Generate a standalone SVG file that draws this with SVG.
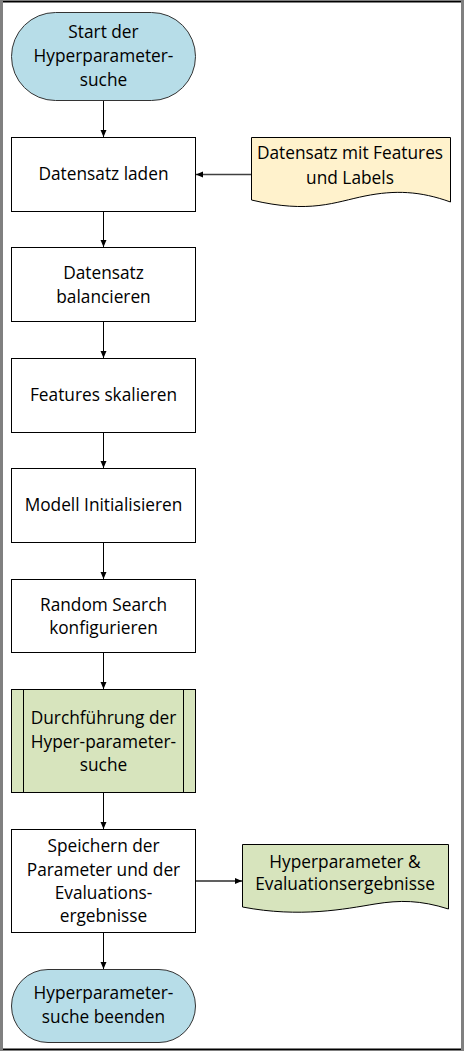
<svg xmlns="http://www.w3.org/2000/svg" width="464" height="1051" viewBox="0 0 464 1051">
<defs>
<marker id="ah" markerWidth="8" markerHeight="8" refX="7" refY="4" orient="auto" markerUnits="userSpaceOnUse">
<path d="M0,1 L7,4 L0,7 Z" fill="#000"/>
</marker>
</defs>
<style>
.t{font-family:"Open Sans","Liberation Sans",sans-serif;font-size:17.3px;fill:#000;text-anchor:middle}
.box{fill:#fff;stroke:#000;stroke-width:1}
.term{fill:#b7dde8;stroke:#333;stroke-width:1}
.con{stroke:#000;stroke-width:1;fill:none}
</style>
<rect x="0" y="0" width="464" height="1051" fill="#fff"/>
<g id="frame">
<line x1="0" y1="1.5" x2="464" y2="1.5" stroke="#000" stroke-width="2"/>
<line x1="0" y1="1049.5" x2="464" y2="1049.5" stroke="#000" stroke-width="2"/>
<line x1="1.5" y1="0" x2="1.5" y2="1051" stroke="#808080" stroke-width="3"/>
<line x1="462.5" y1="0" x2="462.5" y2="1051" stroke="#808080" stroke-width="3"/>
</g>
<g id="connectors">
<line class="con" x1="103.5" y1="100" x2="103.5" y2="137" marker-end="url(#ah)"/>
<line class="con" x1="103.5" y1="211" x2="103.5" y2="247" marker-end="url(#ah)"/>
<line class="con" x1="103.5" y1="321" x2="103.5" y2="358" marker-end="url(#ah)"/>
<line class="con" x1="103.5" y1="432" x2="103.5" y2="468" marker-end="url(#ah)"/>
<line class="con" x1="103.5" y1="542" x2="103.5" y2="579" marker-end="url(#ah)"/>
<line class="con" x1="103.5" y1="652" x2="103.5" y2="689" marker-end="url(#ah)"/>
<line class="con" x1="103.5" y1="792" x2="103.5" y2="829" marker-end="url(#ah)"/>
<line class="con" x1="103.5" y1="932" x2="103.5" y2="969" marker-end="url(#ah)"/>
<line x1="251" y1="174.5" x2="196" y2="174.5" stroke="#404040" stroke-width="1.3" marker-end="url(#ah)"/>
<line x1="195" y1="881" x2="242" y2="881" stroke="#606060" stroke-width="2" marker-end="url(#ah)"/>
</g>
<g id="start">
<rect class="term" x="11.5" y="12.5" width="184" height="88" rx="44" ry="44"/>
<text class="t" x="103.5" y="38">Start der</text>
<text class="t" x="103.5" y="62">Hyperparameter-</text>
<text class="t" x="103.5" y="86">suche</text>
</g>
<g id="laden">
<rect class="box" x="11.5" y="137.5" width="184" height="74"/>
<text class="t" x="103.5" y="180">Datensatz laden</text>
</g>
<g id="datensatz">
<path d="M251.5,137.5 H450.5 V202 C420,191 395,190 365,196 C335,202 310,214 251.5,200 Z" fill="#fff2cc" stroke="#000" stroke-width="1"/>
<text class="t" x="350" y="159">Datensatz mit Features</text>
<text class="t" x="350" y="184">und Labels</text>
</g>
<g id="balancieren">
<rect class="box" x="11.5" y="247.5" width="184" height="74"/>
<text class="t" x="103.5" y="279">Datensatz</text>
<text class="t" x="103.5" y="303">balancieren</text>
</g>
<g id="skalieren">
<rect class="box" x="11.5" y="358.5" width="184" height="74"/>
<text class="t" x="103.5" y="401">Features skalieren</text>
</g>
<g id="modell">
<rect class="box" x="11.5" y="468.5" width="184" height="74"/>
<text class="t" x="103.5" y="511">Modell Initialisieren</text>
</g>
<g id="random">
<rect class="box" x="11.5" y="579.5" width="184" height="73"/>
<text class="t" x="103.5" y="611">Random Search</text>
<text class="t" x="103.5" y="634">konfigurieren</text>
</g>
<g id="durchfuehrung">
<rect x="11.5" y="689.5" width="184" height="103" fill="#d7e4bd" stroke="#000" stroke-width="1"/>
<line x1="23.5" y1="689.5" x2="23.5" y2="792.5" stroke="#000" stroke-width="1"/>
<line x1="183.5" y1="689.5" x2="183.5" y2="792.5" stroke="#000" stroke-width="1"/>
<text class="t" x="103.5" y="724">Durchführung der</text>
<text class="t" x="103.5" y="748">Hyper-parameter-</text>
<text class="t" x="103.5" y="771">suche</text>
</g>
<g id="speichern">
<rect class="box" x="11.5" y="829.5" width="184" height="103"/>
<text class="t" x="103.5" y="852">Speichern der</text>
<text class="t" x="103.5" y="876">Parameter und der</text>
<text class="t" x="103.5" y="899">Evaluations-</text>
<text class="t" x="103.5" y="922">ergebnisse</text>
</g>
<g id="ergebnisse">
<path d="M242.5,844.5 H448.5 V909 C420,900 400,900 375,904 C345,909 300,918 242.5,907 Z" fill="#d7e4bd" stroke="#000" stroke-width="1"/>
<text class="t" x="345" y="868">Hyperparameter &amp;</text>
<text class="t" x="345" y="890">Evaluationsergebnisse</text>
</g>
<g id="ende">
<rect class="term" x="11.5" y="969.5" width="184" height="73" rx="36.5" ry="36.5"/>
<text class="t" x="103.5" y="999">Hyperparameter-</text>
<text class="t" x="103.5" y="1023">suche beenden</text>
</g>
</svg>
